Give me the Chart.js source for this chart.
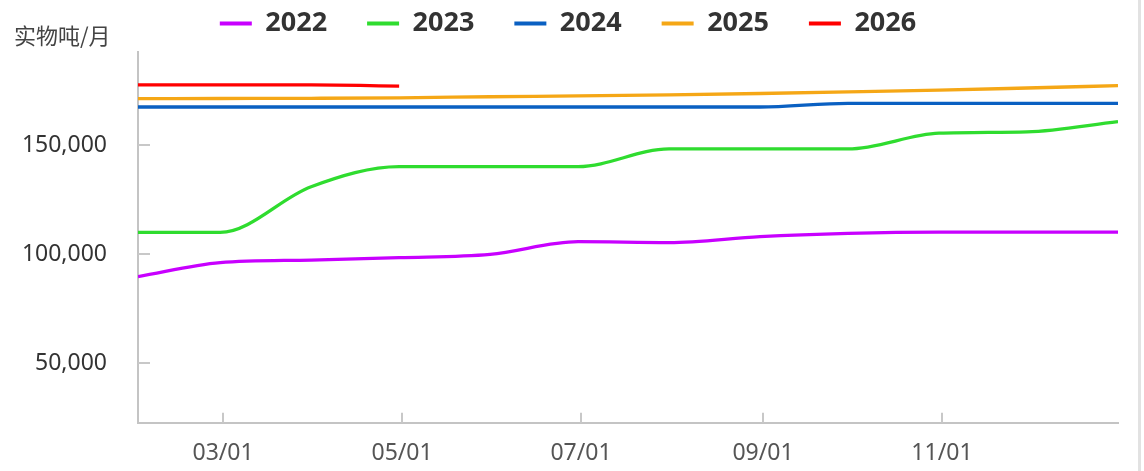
<!DOCTYPE html>
<html>
<head>
<meta charset="utf-8">
<script src="https://cdn.jsdelivr.net/npm/chart.js@4/dist/chart.umd.min.js"></script>
<style>
  html, body { margin: 0; padding: 0; background: #fff; }
  #wrap { position: relative; width: 1144px; height: 471px; }
  #edge { position: absolute; left: 1138px; top: 0; width: 3px; height: 471px; background: #e2e2e2; }
</style>
</head>
<body>
<div id="wrap">
  <canvas id="c"></canvas>
  <div id="edge"></div>
</div>
<script>
// ---- data ----
const unitLabel = '实物吨/月';
const seriesNames = ['2022', '2023', '2024', '2025', '2026'];
const seriesColors = ['#c800ff', '#2fdc2f', '#0a60c2', '#f5a716', '#ff0000'];
const dates = ['01/31','02/28','03/31','04/30','05/31','06/30','07/31','08/31','09/30','10/31','11/30','12/31'];
const s2022 = [89700, 96100, 97300, 98400, 99900, 105700, 105300, 108000, 109500, 110100, 110100, 110100];
const s2023 = [110000, 110000, 130900, 140100, 140100, 140100, 148200, 148200, 148200, 155400, 156000, 160700];
const s2024 = [167400, 167400, 167400, 167400, 167400, 167400, 167400, 167400, 169100, 169100, 169100, 169100];
const s2025 = [171200, 171300, 171400, 171600, 172100, 172500, 173000, 173600, 174300, 175100, 176100, 177200];
const s2026 = [177500, 177500, 177500, 177000];
const xTickLabels = ['03/01', '05/01', '07/01', '09/01', '11/01'];
const yTickValues = [50000, 100000, 150000];

// ---- helpers ----
const monthDays = [31,28,31,30,31,30,31,31,30,31,30,31];
function dayOfYear(mmdd) {
  const [m, d] = mmdd.split('/').map(Number);
  let n = 0;
  for (let i = 0; i < m - 1; i++) n += monthDays[i];
  return n + d - 1;
}
const xTickDays = xTickLabels.map(dayOfYear);
function pts(values) { return values.map((v, i) => ({ x: dayOfYear(dates[i]), y: v })); }
const allSeries = [s2022, s2023, s2024, s2025, s2026];

const datasets = allSeries.map((s, i) => ({
  label: seriesNames[i],
  data: pts(s),
  borderColor: seriesColors[i],
  backgroundColor: seriesColors[i],
  borderWidth: 3.3,
  pointRadius: 0,
  pointHoverRadius: 0,
  cubicInterpolationMode: 'monotone',
  fill: false
}));

const inwardTicks = {
  id: 'inwardTicks',
  afterLayout(chart) {
    if (chart.legend) { chart.legend.left += 2; chart.legend.right += 2; }
  },
  afterDraw(chart) {
    const { ctx, chartArea, scales } = chart;
    ctx.save();
    ctx.strokeStyle = '#c8c8c8';
    ctx.lineWidth = 2;
    scales.y.ticks.forEach(t => {
      const y = Math.round(scales.y.getPixelForValue(t.value));
      ctx.beginPath();
      ctx.moveTo(chartArea.left, y);
      ctx.lineTo(chartArea.left + 12, y);
      ctx.stroke();
    });
    scales.x.ticks.forEach(t => {
      const x = Math.round(scales.x.getPixelForValue(t.value));
      ctx.beginPath();
      ctx.moveTo(x, chartArea.bottom);
      ctx.lineTo(x, chartArea.bottom - 10);
      ctx.stroke();
    });
    ctx.restore();
  }
};

new Chart(document.getElementById('c'), {
  type: 'line',
  data: { datasets },
  plugins: [inwardTicks],
  options: {
    responsive: true,
    maintainAspectRatio: false,
    animation: false,
    events: [],
    layout: { padding: { top: -30, left: 14, right: 26, bottom: 0 } },
    plugins: {
      legend: {
        display: true,
        position: 'top',
        align: 'center',
        labels: {
          boxWidth: 32,
          boxHeight: 4,
          padding: 40,
          color: '#333333',
          font: { family: "'Noto Sans', sans-serif", size: 27, weight: 'bold' },
          generateLabels(chart) {
            return Chart.defaults.plugins.legend.labels.generateLabels(chart).map(l => ({
              ...l, lineWidth: 0, strokeStyle: 'rgba(0,0,0,0)'
            }));
          }
        }
      },
      title: {
        display: true,
        text: unitLabel,
        align: 'start',
        position: 'top',
        weight: 500,
        color: '#444444',
        padding: { top: -25, bottom: 3.6 },
        font: { family: "'Noto Sans CJK SC', 'Noto Sans', sans-serif", size: 22, weight: 'normal', lineHeight: 1.2 }
      },
      tooltip: { enabled: false }
    },
    scales: {
      x: {
        type: 'linear',
        min: dayOfYear(dates[0]),
        max: dayOfYear(dates[dates.length - 1]),
        grid: { display: false, drawTicks: false },
        border: { display: true, color: '#c4c4c4', width: 2 },
        afterBuildTicks(scale) { scale.ticks = xTickDays.map(v => ({ value: v })); },
        afterFit(scale) { scale.height = 48.3; },
        ticks: {
          autoSkip: false,
          maxRotation: 0,
          padding: 17,
          color: '#555555',
          font: { family: "'Noto Sans', sans-serif", size: 23 },
          callback(value) {
            const i = xTickDays.indexOf(value);
            return i >= 0 ? xTickLabels[i] : '';
          }
        }
      },
      y: {
        type: 'linear',
        min: 22800,
        max: 192600,
        grid: { display: false, drawTicks: false },
        border: { display: true, color: '#c4c4c4', width: 2 },
        afterBuildTicks(scale) { scale.ticks = yTickValues.map(v => ({ value: v })); },
        afterFit(scale) { scale.width = 124; },
        ticks: {
          padding: 31,
          color: '#333333',
          font: { family: "'Noto Sans', sans-serif", size: 23 },
          callback(value) { return value.toLocaleString('en-US'); }
        }
      }
    }
  }
});
</script>
</body>
</html>
